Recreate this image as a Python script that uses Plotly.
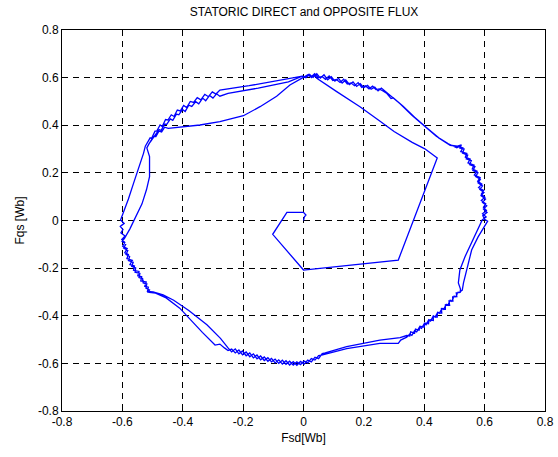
import plotly.graph_objects as go

# Start-up transient of the stator flux vector [Wb]
transient_x = [0.0, 0.003, 0.008, 0.0, -0.055, -0.102, 0.0, 0.314, 0.443, 0.402, 0.360, 0.300, 0.248, 0.187, 0.110, 0.071, 0.044]
transient_y = [0.0, 0.016, 0.023, 0.034, 0.034, -0.058, -0.208, -0.166, 0.263, 0.301, 0.328, 0.374, 0.422, 0.478, 0.541, 0.576, 0.597]

top_start_x = [0.044, 0.036, 0.026, 0.016, 0.006, -0.004]
top_start_y = [0.597, 0.611, 0.600, 0.613, 0.601, 0.606]

# Sector transitions, upper left (three passes)
tl_a_x = [-0.004, -0.080, -0.180, -0.277]
tl_a_y = [0.606, 0.588, 0.566, 0.548]
tl_b_x = [-0.004, -0.050, -0.150, -0.250, -0.277]
tl_b_y = [0.606, 0.582, 0.556, 0.534, 0.522]
tl_c_x = [0.001, -0.045, -0.089, -0.144, -0.199, -0.277, -0.343, -0.409, -0.448]
tl_c_y = [0.602, 0.569, 0.522, 0.478, 0.440, 0.415, 0.401, 0.392, 0.387]

# Upper-left chattering arc
ul1_x = [-0.277, -0.290, -0.302, -0.315, -0.327, -0.340, -0.352, -0.364, -0.375, -0.387, -0.397, -0.408, -0.418, -0.429, -0.438, -0.449, -0.457, -0.468, -0.475, -0.486, -0.492, -0.503, -0.508, -0.518, -0.524]
ul1_y = [0.548, 0.531, 0.540, 0.520, 0.530, 0.507, 0.516, 0.496, 0.500, 0.474, 0.483, 0.460, 0.464, 0.437, 0.444, 0.422, 0.424, 0.395, 0.401, 0.376, 0.375, 0.345, 0.347, 0.324, 0.312]
ul2_x = [-0.277, -0.288, -0.300, -0.311, -0.324, -0.334, -0.347, -0.357, -0.370, -0.380, -0.392, -0.401, -0.413, -0.421, -0.433, -0.441, -0.453, -0.460, -0.472, -0.478, -0.490, -0.495, -0.506, -0.511, -0.519]
ul2_y = [0.522, 0.532, 0.514, 0.525, 0.503, 0.514, 0.490, 0.499, 0.479, 0.484, 0.458, 0.466, 0.444, 0.447, 0.421, 0.427, 0.404, 0.405, 0.378, 0.382, 0.358, 0.352, 0.332, 0.324, 0.305]
ul3_x = [-0.448, -0.460, -0.470, -0.479, -0.489, -0.497, -0.507, -0.514]
ul3_y = [0.387, 0.392, 0.372, 0.375, 0.352, 0.352, 0.330, 0.318]

# Transitions towards the left arc
lt_outer_x = [-0.524, -0.530, -0.545, -0.562, -0.580, -0.598, -0.606]
lt_outer_y = [0.312, 0.282, 0.220, 0.160, 0.090, 0.025, 0.002]
lt_inner_x = [-0.519, -0.510, -0.510, -0.520, -0.535, -0.555, -0.575, -0.593]
lt_inner_y = [0.305, 0.268, 0.184, 0.130, 0.070, 0.015, -0.035, -0.075]

# Left chattering arc
left1_x = [-0.606, -0.594, -0.607, -0.598, -0.605, -0.591, -0.602, -0.592, -0.599, -0.584, -0.592, -0.580, -0.585, -0.567, -0.575, -0.560, -0.563, -0.545, -0.549, -0.536, -0.539, -0.521, -0.526, -0.514, -0.517]
left1_y = [0.002, -0.012, -0.025, -0.038, -0.052, -0.065, -0.080, -0.092, -0.108, -0.118, -0.135, -0.143, -0.160, -0.167, -0.185, -0.191, -0.209, -0.214, -0.232, -0.236, -0.254, -0.258, -0.276, -0.280, -0.298]
left2_x = [-0.593, -0.601, -0.589, -0.596, -0.582, -0.588, -0.576, -0.580, -0.564, -0.569, -0.556, -0.558, -0.542, -0.545, -0.533, -0.531, -0.519, -0.522, -0.510, -0.515]
left2_y = [-0.075, -0.088, -0.100, -0.116, -0.126, -0.143, -0.151, -0.168, -0.175, -0.193, -0.199, -0.217, -0.222, -0.240, -0.244, -0.262, -0.266, -0.284, -0.292, -0.301]

# Transitions towards the bottom arc
ll_outer_x = [-0.517, -0.498, -0.465, -0.430, -0.380, -0.320, -0.275, -0.250]
ll_outer_y = [-0.298, -0.300, -0.312, -0.335, -0.378, -0.438, -0.495, -0.535]
ll_inner_x = [-0.515, -0.490, -0.455, -0.410, -0.376, -0.335, -0.293, -0.277, -0.262]
ll_inner_y = [-0.301, -0.305, -0.325, -0.368, -0.415, -0.470, -0.523, -0.519, -0.535]

# Bottom chattering arc
bot1_x = [-0.250, -0.238, -0.226, -0.214, -0.202, -0.190, -0.178, -0.166, -0.154, -0.142, -0.130, -0.118, -0.106, -0.094, -0.082, -0.070, -0.058, -0.046, -0.034, -0.022, -0.010, 0.002, 0.014, 0.026, 0.038, 0.050, 0.062, 0.072]
bot1_y = [-0.535, -0.552, -0.539, -0.560, -0.548, -0.568, -0.556, -0.577, -0.565, -0.585, -0.573, -0.591, -0.579, -0.598, -0.585, -0.603, -0.589, -0.607, -0.593, -0.608, -0.592, -0.603, -0.586, -0.594, -0.574, -0.580, -0.559, -0.558]
bot2_x = [-0.262, -0.250, -0.238, -0.226, -0.214, -0.202, -0.190, -0.178, -0.166, -0.154, -0.142, -0.130, -0.118, -0.106, -0.094, -0.082, -0.070, -0.058, -0.046, -0.034, -0.022, -0.010, 0.002, 0.014, 0.026, 0.038, 0.050, 0.060]
bot2_y = [-0.535, -0.546, -0.540, -0.556, -0.544, -0.564, -0.552, -0.572, -0.560, -0.581, -0.569, -0.588, -0.576, -0.594, -0.582, -0.600, -0.587, -0.604, -0.591, -0.607, -0.594, -0.605, -0.590, -0.598, -0.580, -0.586, -0.567, -0.565]

# Transitions towards the lower-right arc
br_outer_x = [0.072, 0.143, 0.209, 0.253, 0.320, 0.342]
br_outer_y = [-0.556, -0.530, -0.512, -0.502, -0.492, -0.483]
br_inner_x = [0.060, 0.143, 0.209, 0.253, 0.314, 0.322, 0.342]
br_inner_y = [-0.565, -0.538, -0.523, -0.516, -0.516, -0.502, -0.490]

# Lower-right chattering arc
lr1_x = [0.342, 0.352, 0.355, 0.368, 0.371, 0.383, 0.386, 0.400, 0.401, 0.414, 0.416, 0.430, 0.430, 0.443, 0.444, 0.458, 0.457, 0.470, 0.470, 0.484, 0.482, 0.495, 0.494, 0.508, 0.506, 0.519, 0.520]
lr1_y = [-0.483, -0.485, -0.468, -0.473, -0.456, -0.461, -0.444, -0.448, -0.431, -0.434, -0.417, -0.420, -0.402, -0.405, -0.387, -0.389, -0.371, -0.373, -0.355, -0.356, -0.338, -0.338, -0.321, -0.320, -0.304, -0.302, -0.288]
lr2_x = [0.342, 0.352, 0.359, 0.368, 0.375, 0.384, 0.391, 0.400, 0.406, 0.415, 0.421, 0.430, 0.436, 0.445, 0.450, 0.459, 0.464, 0.473, 0.478, 0.486, 0.491, 0.499, 0.504, 0.512, 0.516, 0.526]
lr2_y = [-0.490, -0.477, -0.482, -0.463, -0.468, -0.448, -0.453, -0.433, -0.438, -0.417, -0.422, -0.401, -0.406, -0.385, -0.390, -0.369, -0.373, -0.352, -0.356, -0.335, -0.339, -0.318, -0.321, -0.301, -0.302, -0.292]

# Transitions towards the right arc
rt_a_x = [0.520, 0.513, 0.518, 0.535, 0.548, 0.570, 0.592]
rt_a_y = [-0.288, -0.262, -0.208, -0.152, -0.118, -0.060, 0.002]
rt_b_x = [0.526, 0.530, 0.546, 0.557, 0.578, 0.600, 0.610, 0.600]
rt_b_y = [-0.292, -0.262, -0.180, -0.124, -0.070, -0.020, -0.003, 0.005]

# Right chattering arc
right1_x = [0.592, 0.605, 0.593, 0.606, 0.596, 0.604, 0.589, 0.601, 0.589, 0.597, 0.580, 0.591, 0.577, 0.585, 0.566, 0.575, 0.559, 0.565, 0.545, 0.552, 0.536, 0.541, 0.521, 0.528, 0.515, 0.508]
right1_y = [0.002, 0.015, 0.028, 0.042, 0.056, 0.070, 0.084, 0.098, 0.111, 0.126, 0.138, 0.153, 0.165, 0.180, 0.191, 0.207, 0.217, 0.233, 0.242, 0.258, 0.266, 0.282, 0.289, 0.305, 0.310, 0.305]
right2_x = [0.600, 0.594, 0.608, 0.596, 0.607, 0.593, 0.603, 0.588, 0.598, 0.584, 0.593, 0.578, 0.586, 0.570, 0.578, 0.561, 0.568, 0.550, 0.556, 0.539, 0.544, 0.527, 0.532, 0.518, 0.523, 0.510]
right2_y = [0.005, 0.020, 0.034, 0.048, 0.062, 0.076, 0.090, 0.104, 0.118, 0.131, 0.145, 0.158, 0.173, 0.185, 0.200, 0.210, 0.226, 0.235, 0.251, 0.259, 0.275, 0.283, 0.300, 0.304, 0.318, 0.312]

# Transitions towards the top arc
ur_a_x = [0.508, 0.480, 0.440, 0.400, 0.360, 0.320, 0.300, 0.285, 0.270]
ur_a_y = [0.305, 0.322, 0.354, 0.397, 0.441, 0.490, 0.512, 0.525, 0.542]
ur_b_x = [0.510, 0.486, 0.448, 0.408, 0.368, 0.330, 0.310, 0.298, 0.290, 0.275, 0.262]
ur_b_y = [0.312, 0.316, 0.347, 0.390, 0.434, 0.480, 0.500, 0.515, 0.512, 0.535, 0.545]

# Top chattering arc
top1_x = [0.270, 0.258, 0.247, 0.236, 0.224, 0.212, 0.200, 0.188, 0.176, 0.164, 0.152, 0.140, 0.128, 0.116, 0.104, 0.092, 0.080, 0.068, 0.056, 0.044, 0.032, 0.020, 0.008, -0.004]
top1_y = [0.542, 0.556, 0.544, 0.560, 0.551, 0.568, 0.558, 0.575, 0.563, 0.582, 0.571, 0.590, 0.577, 0.597, 0.585, 0.604, 0.591, 0.612, 0.598, 0.616, 0.601, 0.614, 0.600, 0.606]
top2_x = [0.262, 0.251, 0.240, 0.229, 0.217, 0.205, 0.193, 0.181, 0.169, 0.157, 0.145, 0.133, 0.121, 0.109, 0.097, 0.085, 0.073, 0.061, 0.049, 0.037, 0.025, 0.013, 0.001]
top2_y = [0.545, 0.553, 0.550, 0.564, 0.553, 0.566, 0.559, 0.579, 0.566, 0.578, 0.573, 0.593, 0.580, 0.592, 0.588, 0.607, 0.593, 0.605, 0.600, 0.617, 0.603, 0.611, 0.602]

# Order in which the flux vector visits the segments
path = [
    (transient_x, transient_y), (top_start_x, top_start_y),
    (tl_a_x, tl_a_y), (ul1_x, ul1_y), (lt_outer_x, lt_outer_y), (left1_x, left1_y),
    (ll_outer_x, ll_outer_y), (bot1_x, bot1_y), (br_outer_x, br_outer_y), (lr1_x, lr1_y),
    (rt_a_x, rt_a_y), (right1_x, right1_y), (ur_a_x, ur_a_y), (top1_x, top1_y),
    (tl_b_x, tl_b_y), (ul2_x, ul2_y), (lt_inner_x, lt_inner_y), (left2_x, left2_y),
    (ll_inner_x, ll_inner_y), (bot2_x, bot2_y), (br_inner_x, br_inner_y), (lr2_x, lr2_y),
    (rt_b_x, rt_b_y), (right2_x, right2_y), (ur_b_x, ur_b_y), (top2_x, top2_y),
    (tl_c_x, tl_c_y), (ul3_x, ul3_y),
]
fsd, fqs = [], []
for xs, ys in path:
    fsd.extend(xs)
    fqs.extend(ys)

tick_vals = [-0.8, -0.6, -0.4, -0.2, 0, 0.2, 0.4, 0.6, 0.8]
tick_text = ["-0.8", "-0.6", "-0.4", "-0.2", "0", "0.2", "0.4", "0.6", "0.8"]

font_main = dict(family="Liberation Sans, Arial, sans-serif", size=12, color="black")

fig = go.Figure(go.Scatter(x=fsd, y=fqs, mode="lines",
                           line=dict(color="#0000ff", width=1.3)))

axis_common = dict(
    range=[-0.8, 0.8], tickvals=tick_vals, ticktext=tick_text,
    showgrid=True, gridcolor="black", gridwidth=1, griddash="6px,5px",
    zeroline=False, showline=True, linecolor="black", linewidth=1,
    mirror="ticks", ticks="inside", ticklen=5, tickcolor="black",
    tickfont=font_main, automargin=False,
)

fig.update_layout(
    width=558, height=457,
    margin=dict(l=62, r=13, t=30, b=46),
    paper_bgcolor="white", plot_bgcolor="white",
    showlegend=False,
    title=dict(text="STATORIC DIRECT and OPPOSITE FLUX", x=0.545, xanchor="center",
               y=0.975, yanchor="middle", font=font_main),
    xaxis=dict(axis_common, title=dict(text="Fsd[Wb]", standoff=5, font=font_main)),
    yaxis=dict(axis_common, title=dict(text="Fqs [Wb]", standoff=10, font=font_main)),
)

fig.write_html("out.html")
